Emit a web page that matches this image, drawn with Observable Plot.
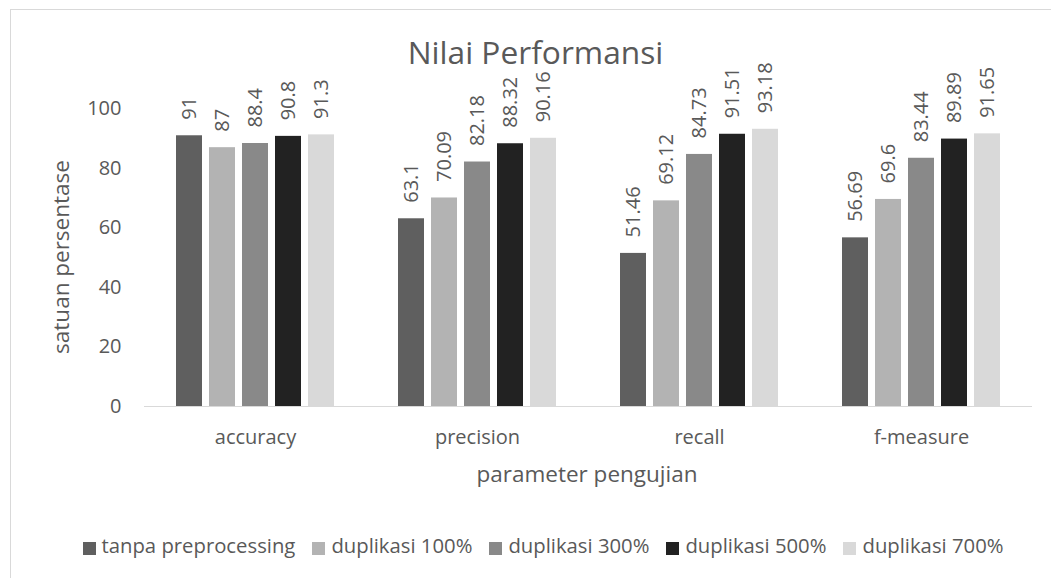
<!DOCTYPE html>
<html>
<head>
<meta charset="utf-8">
<script src="https://cdn.jsdelivr.net/npm/d3@7"></script>
<script src="https://cdn.jsdelivr.net/npm/@observablehq/plot@0.6"></script>
<style>
  html, body { margin: 0; padding: 0; background: #fff; }
  #wrap { position: relative; width: 1051px; height: 578px; overflow: hidden; font-family: "Open Sans", sans-serif; color: #595959; }
  #border { position: absolute; left: 10px; top: 9px; width: 1100px; height: 700px; border: 1px solid #d9d9d9; box-sizing: border-box; }
  #chart { position: absolute; left: 0; top: 0; }
  #title { position: absolute; left: 0; width: 1071px; top: 36px; text-align: center; font-size: 31.7px; line-height: 31.7px; white-space: nowrap; }
  #xtitle { position: absolute; left: 387px; width: 400px; top: 463px; text-align: center; font-size: 22.5px; line-height: 22px; white-space: nowrap; }
  #ytitle { position: absolute; left: 61px; top: 257px; transform: translate(-50%, -50%) rotate(-90deg); font-size: 22.5px; line-height: 22px; white-space: nowrap; }
  #legend { position: absolute; left: 0; width: 1086px; top: 534px; display: flex; justify-content: center; align-items: center; font-size: 20.3px; line-height: 22px; white-space: nowrap; }
  .item { display: flex; align-items: center; margin-right: 17px; }
  .item:last-child { margin-right: 0; }
  .sw { width: 13px; height: 13px; margin-right: 6px; display: inline-block; position: relative; top: 3px; }
</style>
</head>
<body>
<div id="wrap">
  <div id="border"></div>
  <div id="chart"></div>
  <div id="title">Nilai Performansi</div>
  <div id="ytitle">satuan persentase</div>
  <div id="xtitle">parameter pengujian</div>
  <div id="legend"></div>
</div>
<script>
const categories = ["accuracy", "precision", "recall", "f-measure"];
const series = ["tanpa preprocessing", "duplikasi 100%", "duplikasi 300%", "duplikasi 500%", "duplikasi 700%"];
const tanpaPreprocessing = [91, 63.1, 51.46, 56.69];
const duplikasi100 = [87, 70.09, 69.12, 69.6];
const duplikasi300 = [88.4, 82.18, 84.73, 83.44];
const duplikasi500 = [90.8, 88.32, 91.51, 89.89];
const duplikasi700 = [91.3, 90.16, 93.18, 91.65];
const yTicks = [0, 20, 40, 60, 80, 100];
const colors = ["#5f5f5f", "#b3b3b3", "#898989", "#222222", "#d9d9d9"];

const seriesValues = [tanpaPreprocessing, duplikasi100, duplikasi300, duplikasi500, duplikasi700];
const data = [];
categories.forEach((c, i) => {
  series.forEach((s, j) => data.push({cat: c, series: s, value: seriesValues[j][i]}));
});

const chart = Plot.plot({
  width: 1051,
  height: 480,
  marginLeft: 143,
  marginRight: 18,
  marginTop: 108.5,
  marginBottom: 74,
  style: {fontFamily: "Open Sans", color: "#595959", background: "transparent"},
  fx: {domain: categories, padding: 0, label: null},
  x: {domain: series, paddingInner: 0.2, paddingOuter: 0.872, axis: null},
  y: {domain: [0, 100], label: null},
  color: {domain: series, range: colors},
  marks: [
    Plot.axisY({ticks: yTicks, tickSize: 0, tickPadding: 23, fontSize: 20, label: null, fill: "#595959"}),
    Plot.axisFx({anchor: "bottom", tickSize: 0, tickPadding: 23, fontSize: 20, label: null, fill: "#595959"}),
    Plot.barY(data, {fx: "cat", x: "series", y: "value", fill: "series"}),
    Plot.ruleY([0], {stroke: "#d9d9d9", strokeWidth: 1.2}),
    Plot.text(data, {fx: "cat", x: "series", y: "value", text: d => String(d.value), rotate: -90, textAnchor: "start", dy: -16, fontSize: 20, fill: "#595959"})
  ]
});
document.getElementById("chart").appendChild(chart);

const legend = document.getElementById("legend");
series.forEach((s, j) => {
  const it = document.createElement("div");
  it.className = "item";
  const sw = document.createElement("span");
  sw.className = "sw";
  sw.style.background = colors[j];
  const t = document.createElement("span");
  t.textContent = s;
  it.appendChild(sw); it.appendChild(t);
  legend.appendChild(it);
});
</script>
</body>
</html>
